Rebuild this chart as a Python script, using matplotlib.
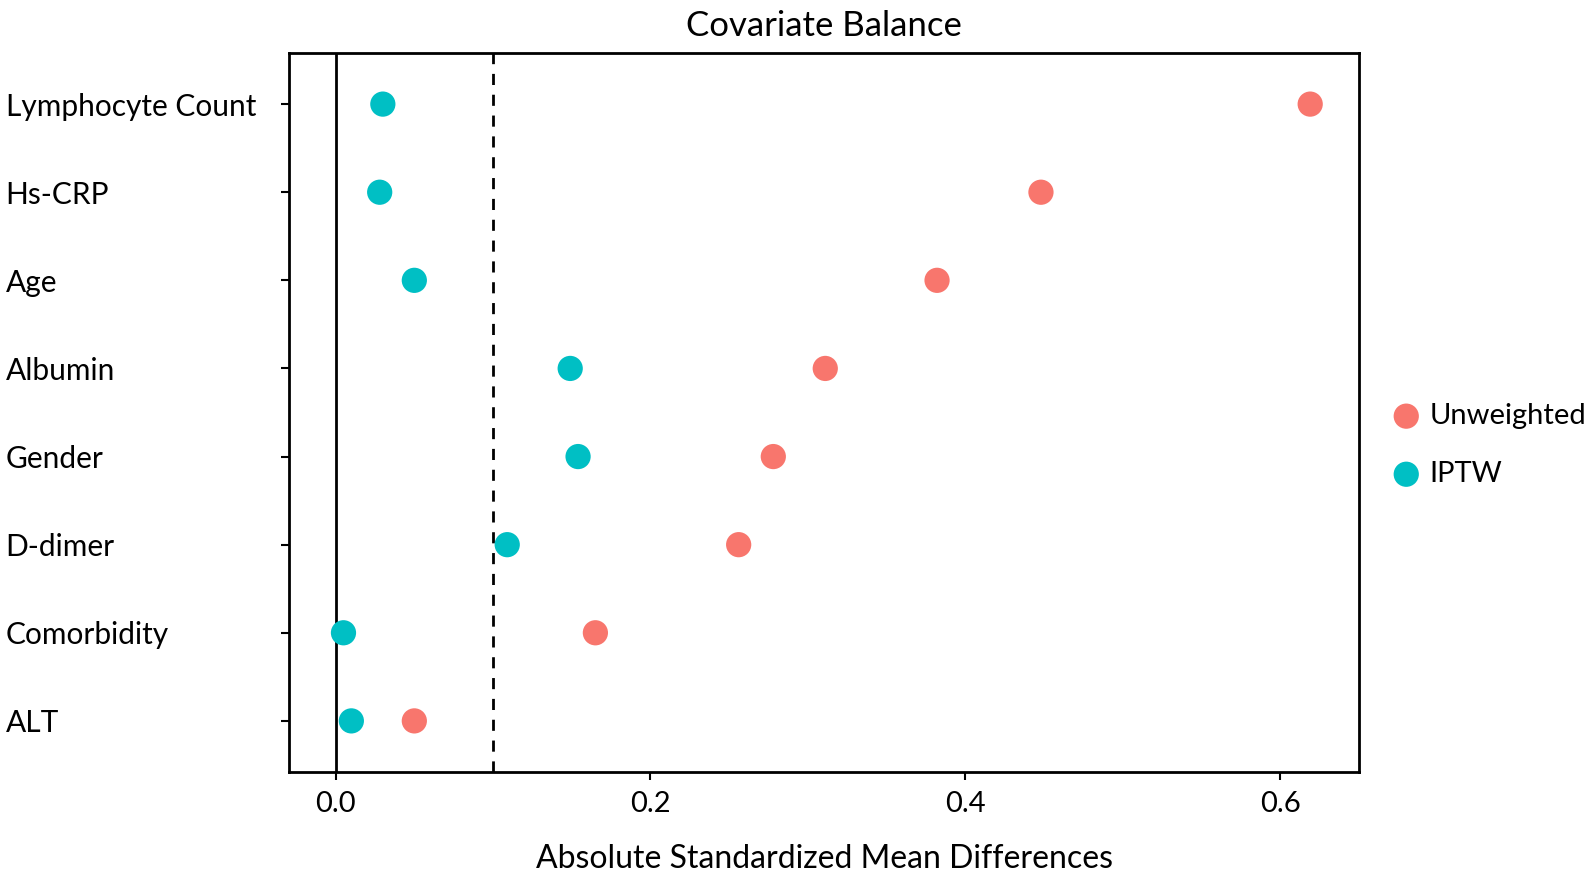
import matplotlib.pyplot as plt

plt.rcParams['font.family'] = ['Lato', 'DejaVu Sans']

covariates = ['Lymphocyte Count', 'Hs-CRP', 'Age', 'Albumin', 'Gender',
              'D-dimer', 'Comorbidity', 'ALT']
unweighted = [0.619, 0.448, 0.382, 0.311, 0.278, 0.256, 0.165, 0.050]
iptw = [0.030, 0.028, 0.050, 0.149, 0.154, 0.109, 0.005, 0.010]
threshold = 0.1

fig = plt.figure(figsize=(15.94, 8.74), dpi=100)
ax = fig.add_axes([289 / 1594, 1 - 772 / 874, (1359 - 289) / 1594, (772 - 53) / 874])

ypos = list(range(len(covariates), 0, -1))

ax.axvline(0, color='black', linewidth=2, zorder=1)
ax.axvline(threshold, color='black', linewidth=2, linestyle=(0, (4, 3.5)), zorder=1)

ax.scatter(unweighted, ypos, s=330, color='#F8766D', label='Unweighted', zorder=3, edgecolors='none')
ax.scatter(iptw, ypos, s=330, color='#00BFC4', label='IPTW', zorder=3, edgecolors='none')

ax.set_xlim(-0.0296, 0.650)
ax.set_ylim(0.42, 8.58)
ax.set_xticks([0.0, 0.2, 0.4, 0.6])
ax.set_xticklabels(['0.0', '0.2', '0.4', '0.6'])
ax.set_yticks(ypos)
ax.set_yticklabels(covariates)

for sp in ax.spines.values():
    sp.set_linewidth(2)
ax.tick_params(axis='x', length=6, width=1.5, labelsize=21, pad=8)
ax.tick_params(axis='y', length=6, width=1.5, labelsize=21.5, pad=198)
for lbl in ax.get_yticklabels():
    lbl.set_horizontalalignment('left')

ax.set_title('Covariate Balance', fontsize=25, pad=12)
ax.set_xlabel('Absolute Standardized Mean Differences', fontsize=23, labelpad=19)

leg = ax.legend(loc='center left', bbox_to_anchor=(1.0, 0.455), frameon=False,
                fontsize=21, markerscale=1.0, handlelength=1.0, handletextpad=0.3,
                labelspacing=1.1, borderaxespad=0.72)

fig.savefig('out.png', dpi=100)
